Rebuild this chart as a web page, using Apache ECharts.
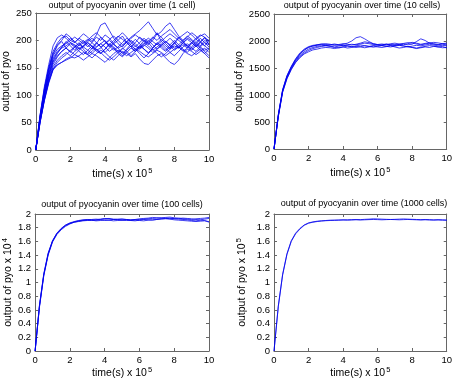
<!DOCTYPE html>
<html>
<head>
<meta charset="utf-8">
<script src="https://cdn.jsdelivr.net/npm/echarts@6/dist/echarts.min.js"></script>
<style>
  html, body { margin: 0; padding: 0; background: #fff; }
  #chart { width: 455px; height: 380px; }
</style>
</head>
<body>
<div id="chart"></div>
<script>
// time axis, units of 10^5 s
const time = [0, 0.25, 0.5, 0.75, 1, 1.25, 1.5, 1.75, 2, 2.25, 2.5, 2.75, 3, 3.25, 3.5, 3.75, 4, 4.25, 4.5, 4.75,
  5, 5.25, 5.5, 5.75, 6, 6.25, 6.5, 6.75, 7, 7.25, 7.5, 7.75, 8, 8.25, 8.5, 8.75, 9, 9.25, 9.5, 9.75, 10];

const titles = [
  "output of pyocyanin over time (1 cell)",
  "output of pyocyanin over time (10 cells)",
  "output of pyocyanin over time (100 cells)",
  "output of pyocyanin over time (1000 cells)"
];
const yMax = [250, 2500, 2, 2];
const yStep = [50, 500, 0.2, 0.2];
const xTicks = [0, 10, 2];

// 1 cell
const oneCell = [
  [0,62,112,150,180,195,205,208,200,196,204,212,206,198,210,228,232,218,204,194,188,198,192,184,190,200,194,204,214,198,190,184,194,204,198,190,184,194,204,196,192],
  [0,52,92,125,148,156,160,166,170,168,172,178,174,168,176,182,178,170,164,172,180,176,170,176,166,158,156,164,172,176,168,160,156,164,176,184,180,174,180,186,178],
  [0,58,102,138,165,178,186,190,196,192,186,190,198,204,196,188,194,202,208,200,192,198,206,212,218,226,234,222,210,216,226,232,220,208,200,206,214,208,198,204,200],
  [0,64,116,156,190,205,210,204,196,190,184,188,196,190,182,186,194,200,192,186,190,196,188,180,186,194,200,192,184,190,198,192,186,192,200,208,202,194,188,182,186],
  [0,50,90,122,146,155,160,164,168,174,170,164,170,176,172,166,160,168,176,182,178,172,178,184,180,174,170,176,182,178,172,178,184,188,182,176,172,178,184,176,168],
  [0,56,100,135,160,172,180,186,180,174,182,190,196,188,180,176,184,192,186,178,184,192,200,194,186,192,186,178,184,192,198,190,182,188,196,202,196,188,196,206,198],
  [0,60,106,145,172,184,190,194,200,206,200,194,200,208,214,206,198,192,200,208,202,196,204,210,204,198,204,198,192,198,206,212,206,200,194,190,196,204,210,206,192],
  [0,54,95,128,152,164,172,178,172,180,186,180,174,180,188,194,188,180,186,176,170,178,186,180,188,196,190,182,188,194,186,178,172,180,188,194,186,180,188,196,188],
  [0,58,104,140,168,180,188,196,204,198,190,196,202,196,188,194,200,190,182,188,196,204,198,190,184,190,198,206,200,208,214,220,212,204,210,216,210,202,208,212,204],
  [0,52,92,124,148,160,168,174,182,188,194,188,182,176,184,178,170,164,170,178,186,180,172,180,190,184,178,184,176,170,176,184,190,186,196,204,200,192,186,180,172],
  [0,56,98,134,162,176,188,198,190,182,192,200,192,184,194,206,198,188,196,206,214,206,196,188,196,204,196,186,194,202,194,186,196,206,198,188,182,190,198,190,184],
  [0,60,108,146,174,190,198,186,178,188,196,184,176,186,196,188,178,186,194,186,176,184,194,202,194,184,176,186,196,190,182,192,200,192,184,178,188,198,190,200,194],
  [0,50,94,130,156,170,180,186,194,188,180,174,182,190,184,176,184,194,188,180,172,182,190,184,176,168,176,186,194,186,180,188,196,188,180,186,196,190,182,176,184],
  [0,64,112,150,176,192,200,212,206,196,204,198,188,196,206,200,210,204,194,200,208,196,188,196,206,200,192,200,212,206,196,204,196,186,192,186,194,202,196,190,200]
];

// 10 cells
const tenCells = [
  [0,630,1090,1350,1520,1660,1760,1830,1880,1905,1930,1940,1935,1925,1930,1920,1940,1960,2000,2060,2080,2040,1990,1950,1930,1920,1940,1930,1915,1935,1950,1930,1940,1990,2040,2010,1960,1940,1930,1945,1920],
  [0,600,1050,1300,1470,1600,1690,1760,1800,1835,1850,1870,1880,1875,1860,1880,1890,1870,1880,1900,1890,1875,1890,1905,1890,1880,1895,1910,1890,1870,1880,1900,1880,1860,1875,1890,1880,1900,1890,1875,1880],
  [0,640,1100,1360,1530,1670,1780,1850,1895,1920,1930,1945,1950,1940,1920,1935,1950,1940,1925,1940,1960,1985,1970,1950,1935,1945,1930,1950,1960,1945,1930,1950,1975,1960,1940,1955,1970,1950,1935,1950,1940],
  [0,615,1075,1325,1495,1630,1730,1800,1850,1880,1900,1910,1920,1905,1890,1905,1920,1910,1895,1910,1925,1915,1900,1915,1930,1915,1905,1920,1935,1920,1905,1890,1905,1920,1910,1925,1940,1925,1910,1920,1910],
  [0,625,1085,1340,1510,1645,1750,1835,1885,1910,1920,1930,1915,1930,1945,1930,1910,1925,1940,1930,1945,1960,1950,1935,1920,1930,1945,1930,1920,1940,1955,1970,1960,1945,1930,1945,1960,1975,1965,1950,1960],
  [0,605,1060,1310,1480,1610,1710,1775,1825,1860,1880,1900,1910,1900,1880,1870,1890,1905,1895,1880,1895,1910,1900,1885,1900,1915,1900,1890,1905,1920,1910,1895,1880,1870,1885,1900,1915,1905,1890,1900,1870]
];

// 100 cells (x 10^4)
const hundredCells = [
  [0,0.65,1.11,1.41,1.60,1.71,1.78,1.83,1.86,1.885,1.90,1.91,1.915,1.92,1.925,1.92,1.93,1.935,1.925,1.92,1.915,1.92,1.91,1.915,1.92,1.925,1.93,1.935,1.94,1.945,1.94,1.93,1.935,1.94,1.93,1.925,1.92,1.93,1.935,1.94,1.95],
  [0,0.67,1.13,1.43,1.61,1.72,1.79,1.84,1.87,1.89,1.905,1.915,1.92,1.915,1.91,1.915,1.905,1.91,1.92,1.915,1.91,1.905,1.91,1.915,1.905,1.90,1.91,1.915,1.92,1.925,1.93,1.925,1.915,1.91,1.905,1.90,1.895,1.89,1.895,1.90,1.89],
  [0,0.64,1.10,1.40,1.59,1.70,1.77,1.82,1.855,1.88,1.895,1.905,1.91,1.905,1.915,1.925,1.935,1.93,1.92,1.925,1.93,1.92,1.915,1.92,1.93,1.935,1.94,1.95,1.945,1.94,1.95,1.955,1.945,1.935,1.94,1.935,1.93,1.92,1.915,1.925,1.935],
  [0,0.66,1.12,1.42,1.605,1.715,1.785,1.835,1.865,1.88,1.89,1.90,1.905,1.91,1.90,1.905,1.915,1.91,1.90,1.905,1.91,1.915,1.905,1.90,1.91,1.92,1.915,1.91,1.92,1.93,1.935,1.94,1.93,1.925,1.92,1.915,1.905,1.90,1.91,1.905,1.88]
];

// 1000 cells (x 10^5)
const thousandCells = [
  [0,0.66,1.12,1.42,1.61,1.72,1.79,1.84,1.87,1.885,1.895,1.90,1.905,1.91,1.91,1.912,1.915,1.915,1.918,1.92,1.918,1.922,1.925,1.93,1.928,1.925,1.922,1.92,1.922,1.925,1.928,1.925,1.922,1.92,1.918,1.92,1.918,1.915,1.918,1.915,1.912],
  [0,0.65,1.11,1.41,1.60,1.71,1.78,1.835,1.865,1.88,1.89,1.898,1.902,1.905,1.908,1.91,1.912,1.91,1.912,1.915,1.912,1.915,1.918,1.92,1.918,1.915,1.918,1.92,1.918,1.915,1.918,1.92,1.918,1.915,1.912,1.915,1.912,1.91,1.912,1.91,1.908]
];

const panels = [oneCell, tenCells, hundredCells, thousandCells];

const FONT = "Liberation Sans";
const frame = "#666";

// plot boxes [left, top, width, height]
const boxes = [[35, 13, 174, 137], [274, 14, 174, 135], [35, 214, 174, 138], [274, 214, 174, 138]];
const yNames = [
  "{a|output of pyo}",
  "{a|output of pyo}",
  "{a|output of pyo x 10}{s|4}",
  "{a|output of pyo x 10}{s|5}"
];
const yGaps = [22, 28, 19, 25];
const xGaps = [17, 17, 15, 15];

const rich = {
  a: { fontSize: 10.5, fontFamily: FONT, color: "#000", lineHeight: 14 },
  s: { fontSize: 7.5, fontFamily: FONT, color: "#000", lineHeight: 14, verticalAlign: "top", padding: [0, 0, 5, 1] }
};

const grid = boxes.map(b => ({ left: b[0], top: b[1], width: b[2], height: b[3] }));

// plain tick numbers, no thousands separator
const tickText = v => String(Math.round(v * 100) / 100);

const xAxis = [];
const yAxis = [];
// bottom / left axes with labels
boxes.forEach((b, i) => {
  xAxis.push({
    type: "value", gridIndex: i, min: xTicks[0], max: xTicks[1], interval: xTicks[2],
    position: "bottom",
    axisLine: { onZero: false, lineStyle: { color: frame, width: 1 } },
    axisTick: { inside: true, length: 3, lineStyle: { color: frame } },
    axisLabel: { color: "#000", fontSize: 9.5, fontFamily: FONT, margin: 4, formatter: tickText },
    splitLine: { show: false },
    name: "{a|time(s) x 10}{s|5}", nameLocation: "middle", nameGap: xGaps[i],
    nameTextStyle: { rich: rich }
  });
  yAxis.push({
    type: "value", gridIndex: i, min: 0, max: yMax[i], interval: yStep[i],
    position: "left",
    axisLine: { onZero: false, lineStyle: { color: frame, width: 1 } },
    axisTick: { inside: true, length: 3, lineStyle: { color: frame } },
    axisLabel: { color: "#000", fontSize: 9.5, fontFamily: FONT, margin: 4, formatter: tickText },
    splitLine: { show: false },
    name: yNames[i], nameLocation: "middle", nameGap: yGaps[i], nameRotate: 90,
    nameTextStyle: { rich: rich }
  });
});
// top / right axes: box frame with inward ticks
boxes.forEach((b, i) => {
  xAxis.push({
    type: "value", gridIndex: i, min: xTicks[0], max: xTicks[1], interval: xTicks[2],
    position: "top",
    axisLine: { onZero: false, lineStyle: { color: frame, width: 1 } },
    axisTick: { inside: true, length: 3, lineStyle: { color: frame } },
    axisLabel: { show: false },
    splitLine: { show: false }
  });
  yAxis.push({
    type: "value", gridIndex: i, min: 0, max: yMax[i], interval: yStep[i],
    position: "right",
    axisLine: { onZero: false, lineStyle: { color: frame, width: 1 } },
    axisTick: { inside: true, length: 3, lineStyle: { color: frame } },
    axisLabel: { show: false },
    splitLine: { show: false }
  });
});

const series = [];
panels.forEach((traces, i) => {
  traces.forEach(vals => {
    series.push({
      type: "line", xAxisIndex: i, yAxisIndex: i,
      data: time.map((t, k) => [t, vals[k]]),
      showSymbol: false, symbol: "none", silent: true,
      lineStyle: { color: "#0000ee", width: 0.75 }
    });
  });
});

const titleCenters = [[122, 1], [362, 1], [122, 200], [364, 199]];
const title = titles.map((txt, i) => ({
  text: txt, left: titleCenters[i][0], top: titleCenters[i][1], textAlign: "center", padding: 0,
  textStyle: { fontSize: 9, fontWeight: "normal", fontFamily: FONT, color: "#000" }
}));

const chart = echarts.init(document.getElementById("chart"), null, { renderer: "canvas" });
chart.setOption({
  animation: false,
  backgroundColor: "#fff",
  title: title,
  grid: grid,
  xAxis: xAxis,
  yAxis: yAxis,
  series: series
});
</script>
</body>
</html>
